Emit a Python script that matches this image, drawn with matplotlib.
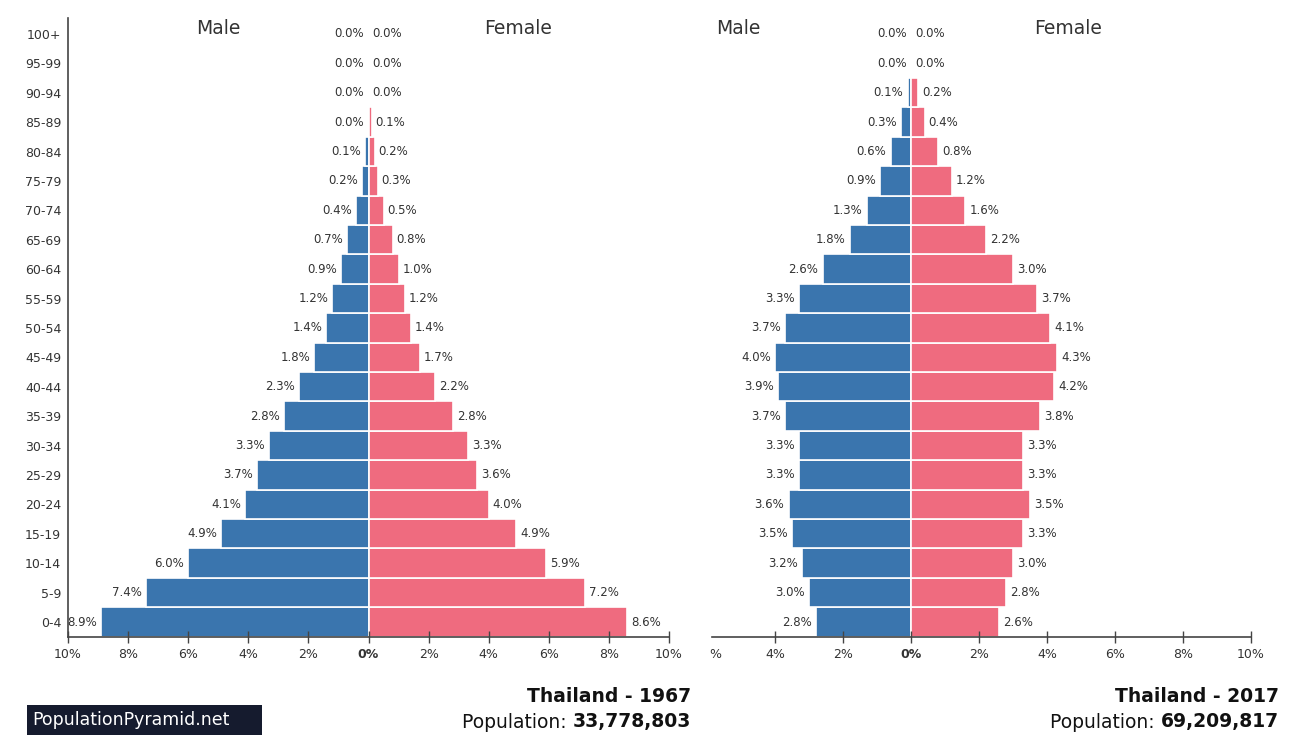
import matplotlib.pyplot as plt
import matplotlib.patches as patches
import numpy as np

ages = ["0-4", "5-9", "10-14", "15-19", "20-24", "25-29", "30-34", "35-39",
        "40-44", "45-49", "50-54", "55-59", "60-64", "65-69", "70-74", "75-79",
        "80-84", "85-89", "90-94", "95-99", "100+"]

male1967 = [8.9, 7.4, 6.0, 4.9, 4.1, 3.7, 3.3, 2.8, 2.3, 1.8, 1.4, 1.2, 0.9, 0.7, 0.4, 0.2, 0.1, 0.0, 0.0, 0.0, 0.0]
female1967 = [8.6, 7.2, 5.9, 4.9, 4.0, 3.6, 3.3, 2.8, 2.2, 1.7, 1.4, 1.2, 1.0, 0.8, 0.5, 0.3, 0.2, 0.1, 0.0, 0.0, 0.0]

male2017 = [2.8, 3.0, 3.2, 3.5, 3.6, 3.3, 3.3, 3.7, 3.9, 4.0, 3.7, 3.3, 2.6, 1.8, 1.3, 0.9, 0.6, 0.3, 0.1, 0.0, 0.0]
female2017 = [2.6, 2.8, 3.0, 3.3, 3.5, 3.3, 3.3, 3.8, 4.2, 4.3, 4.1, 3.7, 3.0, 2.2, 1.6, 1.2, 0.8, 0.4, 0.2, 0.0, 0.0]

xticks = [-10, -8, -6, -4, -2, 0, 2, 4, 6, 8, 10]

maleColor = "#3a75ae"
femaleColor = "#ef6b7f"
textColor = "#333333"

W, H = 1296, 735
fig = plt.figure(figsize=(W / 100, H / 100), dpi=100)


def drawPyramid(ax, males, females, xmin, showAges):
    y = np.arange(len(ages))
    ax.barh(y, [-m for m in males], height=1.0, color=maleColor,
            edgecolor="white", linewidth=1.2)
    ax.barh(y, females, height=1.0, color=femaleColor,
            edgecolor="white", linewidth=1.2)

    for i in range(len(ages)):
        ax.annotate("%.1f%%" % males[i], xy=(-males[i], i), xytext=(-3, 0),
                    textcoords="offset points", ha="right", va="center",
                    fontsize=8.5, color=textColor)
        ax.annotate("%.1f%%" % females[i], xy=(females[i], i), xytext=(3, 0),
                    textcoords="offset points", ha="left", va="center",
                    fontsize=8.5, color=textColor)

    ax.set_xlim(xmin, 10)
    ax.set_ylim(-0.51, 20.54)
    ticks = [t for t in xticks if t >= xmin]
    ax.set_xticks(ticks)
    ax.set_xticklabels(["%d%%" % abs(t) for t in ticks])
    for lab, t in zip(ax.get_xticklabels(), ticks):
        if t == 0:
            lab.set_fontweight("bold")
    ax.tick_params(axis="x", direction="inout", length=8, width=1,
                   colors="#444444", labelcolor=textColor, labelsize=9, pad=4)

    for s in ["top", "right"]:
        ax.spines[s].set_visible(False)
    ax.spines["bottom"].set_color("#444444")
    ax.spines["bottom"].set_linewidth(1.2)

    if showAges:
        ax.set_yticks(y)
        ax.set_yticklabels(ages)
        ax.tick_params(axis="y", length=0, pad=5, labelsize=9, labelcolor=textColor)
        ax.spines["left"].set_color("#444444")
        ax.spines["left"].set_linewidth(1.2)
    else:
        ax.set_yticks([])
        ax.spines["left"].set_visible(False)


axL = fig.add_axes([68 / W, 1 - 637 / H, 601 / W, 619 / H])
drawPyramid(axL, male1967, female1967, -10, True)

axR = fig.add_axes([712 / W, 1 - 637 / H, 539 / W, 619 / H])
drawPyramid(axR, male2017, female2017, -5.85, False)

# headers
fig.text(218 / W, 1 - 28 / H, "Male", ha="center", va="center", fontsize=13.5, color=textColor)
fig.text(518 / W, 1 - 28 / H, "Female", ha="center", va="center", fontsize=13.5, color=textColor)
fig.text(716 / W, 1 - 28 / H, "Male", ha="left", va="center", fontsize=13.5, color=textColor)
fig.text(1068 / W, 1 - 28 / H, "Female", ha="center", va="center", fontsize=13.5, color=textColor)

# partial tick label cut off at the left edge of the right panel
fig.text(715 / W, 1 - 654 / H, "%", ha="center", va="center", fontsize=9, color=textColor)


def footer(xRight, title, pop):
    fig.text(xRight / W, 1 - 697 / H, title, ha="right", va="center",
             fontsize=13.5, fontweight="bold", color="#111111")
    num = fig.text(xRight / W, 1 - 722 / H, pop, ha="right", va="center",
                   fontsize=13.5, fontweight="bold", color="#111111")
    axL.annotate("Population: ", xy=(0, 0), xycoords=num, ha="right",
                 va="bottom", fontsize=13.5, color="#111111",
                 annotation_clip=False)


footer(691, "Thailand - 1967", "33,778,803")
footer(1279, "Thailand - 2017", "69,209,817")

# watermark
fig.patches.append(patches.Rectangle((27 / W, 0), 235 / W, 30 / H,
                                     transform=fig.transFigure,
                                     facecolor="#151b2e", edgecolor="none"))
fig.text(32 / W, 1 - 720 / H, "PopulationPyramid.net", ha="left", va="center",
         fontsize=12.5, color="white")

fig.savefig("out.png", dpi=100)
